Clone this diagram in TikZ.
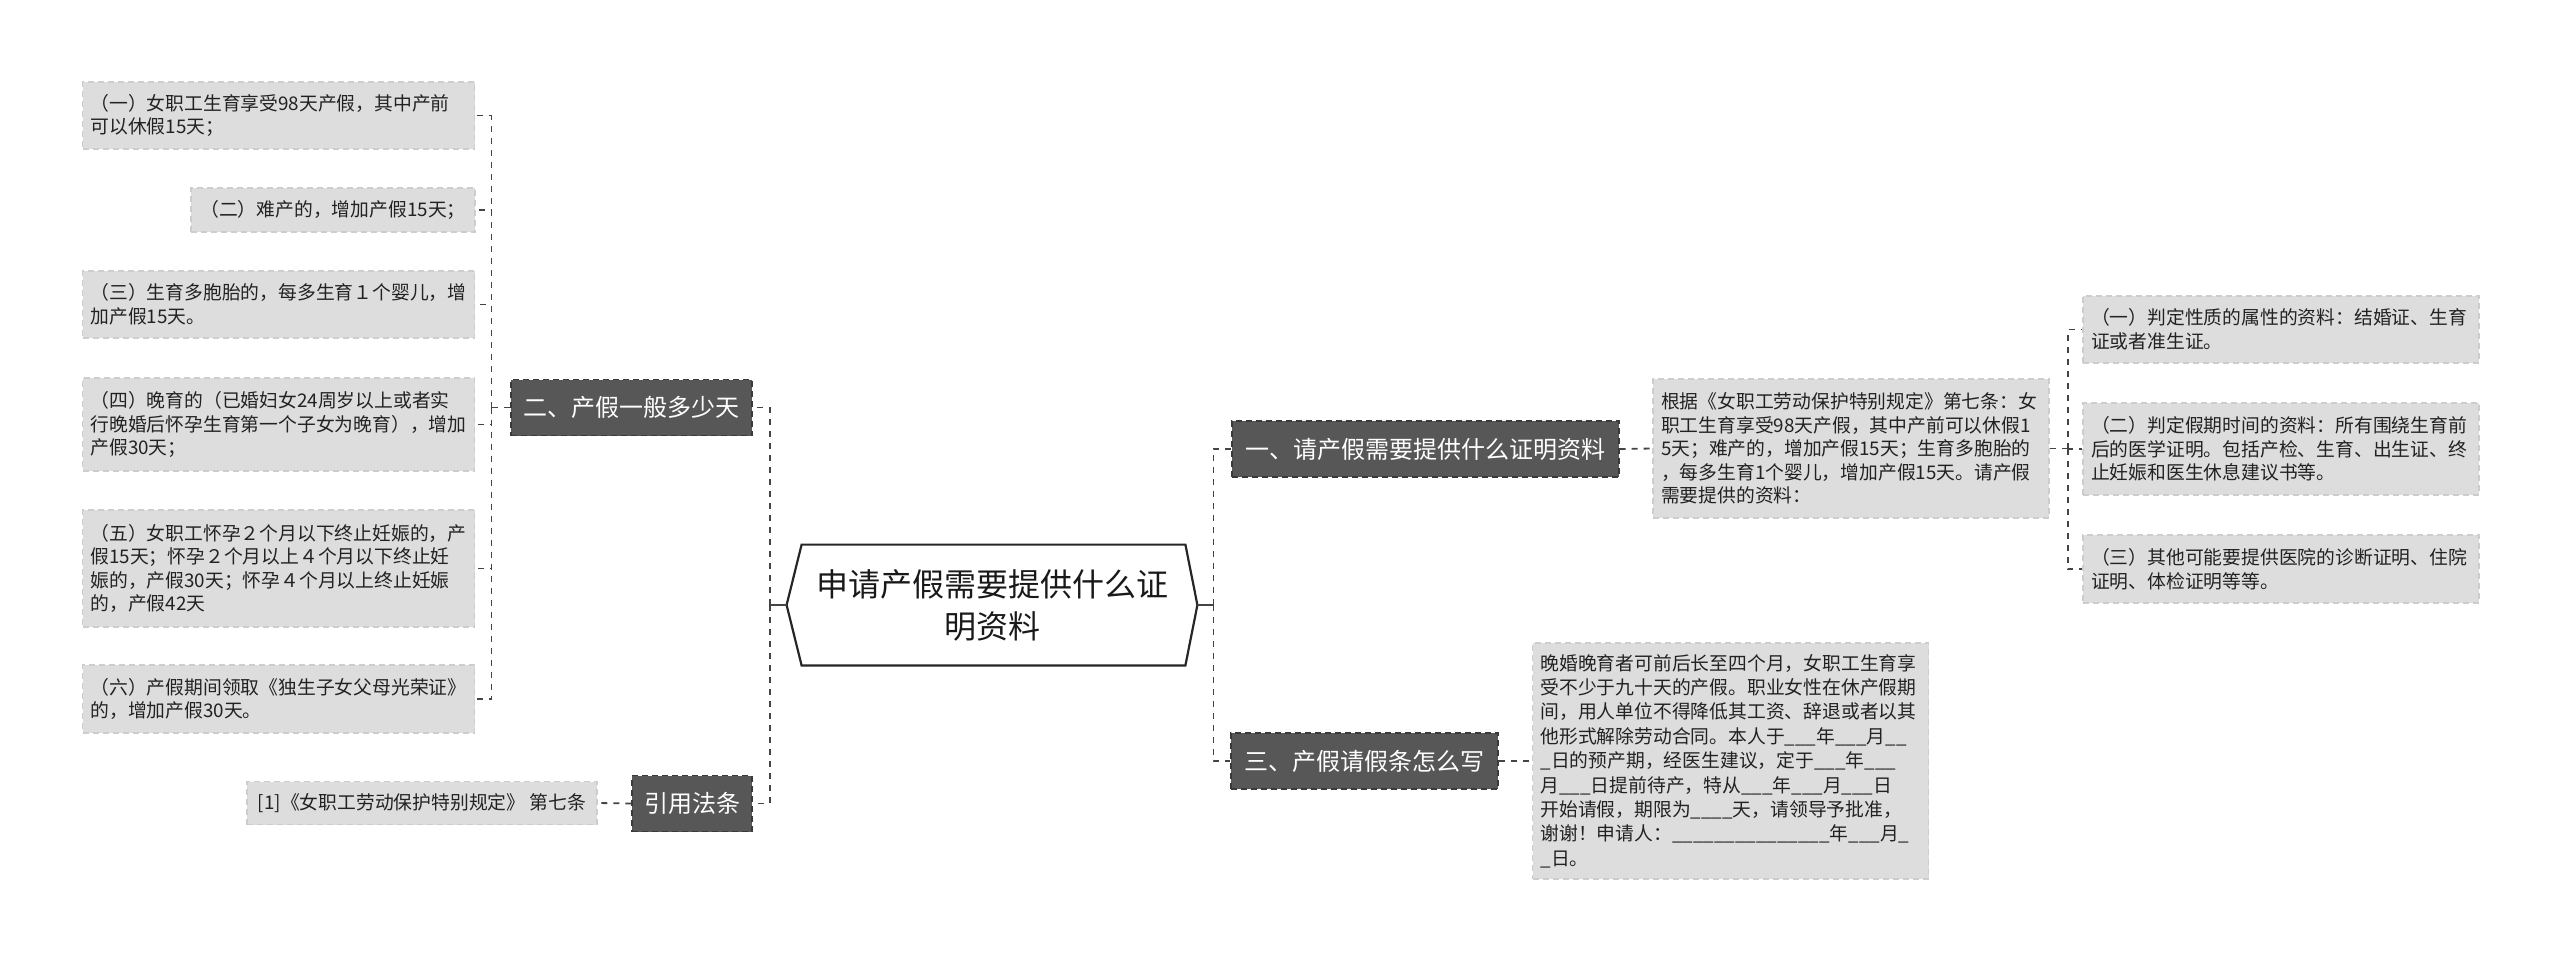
\documentclass[tikz,border=0pt]{standalone}
\usepackage{fontspec}
\setmainfont{Noto Sans CJK SC}
\usetikzlibrary{calc}
\definecolor{leafgray}{HTML}{DDDDDD}
\definecolor{leafline}{HTML}{CDCDCD}
\definecolor{topicgray}{HTML}{575757}
\definecolor{topicline}{HTML}{3A3A3A}
\definecolor{linkgray}{HTML}{444444}
\definecolor{leaftext}{HTML}{222222}

\tikzset{
  leaf/.style={fill=leafgray, draw=leafline, dash pattern=on 3pt off 2pt, line width=0.6pt,
    inner xsep=4pt, inner ysep=2pt, align=left, text=leaftext,
    font=\fontsize{9.4}{11.8}\selectfont},
  wideleaf/.style={leaf, text width=188pt},
  topic/.style={fill=topicgray, draw=topicline, dash pattern=on 3pt off 2pt, line width=0.6pt,
    text=white, minimum height=28pt, font=\fontsize{12}{14}\selectfont},
  rootnode/.style={minimum width=205pt, minimum height=60pt, align=center,
    text=black!90, font=\fontsize{16}{21}\selectfont},
  link/.style={draw=linkgray, dash pattern=on 3pt off 3pt, line width=0.9pt},
  stub/.style={draw=linkgray, line width=1.4pt},
}

\begin{document}
\begin{tikzpicture}[x=0.5pt,y=0.5pt,yscale=-1,xscale=1]
    \useasboundingbox (0,0) rectangle (2560,960);

    % Root
    \node[rootnode] (root) at (992,605) {申请产假需要提供什么证\\明资料};
    \draw[line width=1.1pt, draw=black!85] (root.west) -- ($(root.north west)+(15,0)$)
      -- ($(root.north east)+(-12,0)$) -- (root.east) -- ($(root.south east)+(-12,0)$)
      -- ($(root.south west)+(15,0)$) -- cycle;

    % Text Node
    \node[topic, minimum width=193.5pt] (sub1) at (1425.5,449) {一、请产假需要提供什么证明资料};
    % Text Node
    \node[topic, minimum width=120.5pt] (sub2) at (631.5,407.5) {二、产假一般多少天};
    % Text Node
    \node[topic, minimum width=133.5pt] (sub3) at (1364.5,761) {三、产假请假条怎么写};
    % Text Node
    \node[topic, minimum width=60pt] (sub4) at (692,803.5) {引用法条};

    % Text Node
    \node[wideleaf, minimum height=33.5pt] (days1) at (278.5,115.5)
      {（一）女职工生育享受98天产假，其中产前\\可以休假15天；};
    % Text Node
    \node[leaf, minimum width=142pt, minimum height=22pt, align=center] (days2) at (333,210)
      {（二）难产的，增加产假15天；};
    % Text Node
    \node[wideleaf, minimum height=33.5pt] (days3) at (278.5,304.5)
      {（三）生育多胞胎的，每多生育１个婴儿，增\\加产假15天。};
    % Text Node
    \node[wideleaf, minimum height=46.5pt] (days4) at (278.5,424.5)
      {（四）晚育的（已婚妇女24周岁以上或者实\\行晚婚后怀孕生育第一个子女为晚育），增加\\产假30天；};
    % Text Node
    \node[wideleaf, minimum height=58.5pt] (days5) at (278.5,568.5)
      {（五）女职工怀孕２个月以下终止妊娠的，产\\假15天；怀孕２个月以上４个月以下终止妊\\娠的，产假30天；怀孕４个月以上终止妊娠\\的，产假42天};
    % Text Node
    \node[wideleaf, minimum height=34pt] (days6) at (278.5,699)
      {（六）产假期间领取《独生子女父母光荣证》\\的，增加产假30天。};

    % Text Node
    \node[leaf, minimum width=175pt, minimum height=21.5pt, align=center] (cite) at (422,803)
      {[1]《女职工劳动保护特别规定》 第七条};

    % Text Node
    \node[leaf, text width=190pt, minimum height=69.5pt] (basis) at (1851,448.5)
      {根据《女职工劳动保护特别规定》第七条：女\\职工生育享受98天产假，其中产前可以休假1\\5天；难产的，增加产假15天；生育多胞胎的\\，每多生育1个婴儿，增加产假15天。请产假\\需要提供的资料：};
    % Text Node
    \node[wideleaf, text width=190pt, minimum height=33.5pt] (docs1) at (2281,329.5)
      {（一）判定性质的属性的资料：结婚证、生育\\证或者准生证。};
    % Text Node
    \node[wideleaf, text width=190pt, minimum height=46pt] (docs2) at (2281,449)
      {（二）判定假期时间的资料：所有围绕生育前\\后的医学证明。包括产检、生育、出生证、终\\止妊娠和医生休息建议书等。};
    % Text Node
    \node[wideleaf, text width=190pt, minimum height=34pt] (docs3) at (2281,569)
      {（三）其他可能要提供医院的诊断证明、住院\\证明、体检证明等等。};

    % Text Node
    \node[leaf, text width=190pt, minimum height=118pt, font=\fontsize{9.4}{12.2}\selectfont] (note) at (1730.5,761)
      {晚婚晚育者可前后长至四个月，女职工生育享\\受不少于九十天的产假。职业女性在休产假期\\间，用人单位不得降低其工资、辞退或者以其\\他形式解除劳动合同。本人于\_\_\_年\_\_\_月\_\_\\\_日的预产期，经医生建议，定于\_\_\_年\_\_\_\\月\_\_\_日提前待产，特从\_\_\_年\_\_\_月\_\_\_日\\开始请假，期限为\_\_\_\_天，请领导予批准，\\谢谢！申请人：\_\_\_\_\_\_\_\_\_\_\_\_\_\_\_年\_\_\_月\_\\\_日。};

    %Straight Lines
    \draw[stub] (root.west) -- ++(-17,0) coordinate (forkL);
    \draw[stub] (root.east) -- ++(16,0) coordinate (forkR);
    \draw[link] (forkL) |- (sub2.east);
    \draw[link] (forkL) |- (sub4.east);
    \draw[link] (forkR) |- (sub1.west);
    \draw[link] (forkR) |- (sub3.west);

    %Straight Lines
    \draw[link] (sub2.west) -- ++(-19,0) coordinate (forkDays);
    \foreach \n in {days1,days2,days3,days4,days5,days6}
      \draw[link] (forkDays) |- (\n.east);
    \draw[link] (sub4.west) -- (cite.east);

    %Straight Lines
    \draw[link] (sub1.east) -- (basis.west);
    \draw[link] (basis.east) -- ++(18,0) coordinate (forkDocs);
    \foreach \n in {docs1,docs2,docs3}
      \draw[link] (forkDocs) |- (\n.west);
    \draw[link] (sub3.east) -- (note.west);

\end{tikzpicture}
\end{document}
